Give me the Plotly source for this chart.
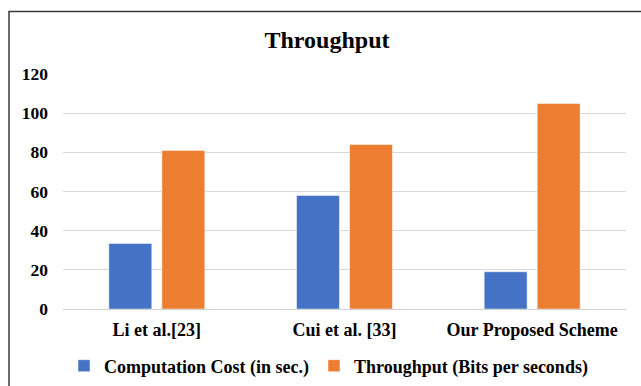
import plotly.graph_objects as go

# Chart data
schemes = ["Li et al.[23]", "Cui et al. [33]", "Our Proposed Scheme"]
computation_cost = [33.5, 58, 19]
throughput = [81, 84, 105]
y_ticks = [0, 20, 40, 60, 80, 100, 120]

FONT = "Liberation Serif, Times New Roman, serif"
W, H = 641, 386
L, R, T, B = 63, 15, 74, 77
plot_w = W - L - R
plot_h = H - T - B


def px_to_paper_x(px):
    return (px - L) / plot_w


def px_to_paper_y(py):
    return (H - B - py) / plot_h


fig = go.Figure()
fig.add_trace(go.Bar(
    name="Computation Cost (in sec.)",
    x=schemes, y=computation_cost,
    marker=dict(color="#4472C4", line=dict(color="rgba(255,255,255,0.5)", width=1)),
))
fig.add_trace(go.Bar(
    name="Throughput (Bits per seconds)",
    x=schemes, y=throughput,
    marker=dict(color="#ED7D31", line=dict(color="rgba(255,255,255,0.5)", width=1)),
))

fig.update_layout(
    width=W, height=H,
    margin=dict(l=L, r=R, t=T, b=B, autoexpand=False),
    paper_bgcolor="white",
    plot_bgcolor="white",
    barmode="group",
    bargap=0.435,
    bargroupgap=0.19,
    font=dict(family=FONT, color="black"),
    title=dict(
        text="<b>Throughput</b>",
        font=dict(family=FONT, size=24, color="black"),
        x=327 / W, xref="container", xanchor="center",
        y=1 - 40 / H, yref="container", yanchor="middle",
    ),
    xaxis=dict(
        showgrid=False,
        showline=False,
        ticks="",
        automargin=False,
        tickfont=dict(family=FONT, size=18, color="black", weight="bold"),
        ticklabelstandoff=8,
    ),
    yaxis=dict(
        range=[0, 120],
        tickvals=y_ticks,
        showgrid=True,
        gridcolor="#d9d9d9",
        gridwidth=1.3,
        zeroline=True,
        zerolinecolor="#d0d0d0",
        zerolinewidth=1.3,
        showline=False,
        ticks="",
        automargin=False,
        tickfont=dict(family=FONT, size=17.5, color="black", weight="bold"),
        ticklabelstandoff=14,
    ),
    legend=dict(
        orientation="h",
        x=px_to_paper_x(64), xanchor="left",
        y=px_to_paper_y(366), yanchor="middle",
        font=dict(family=FONT, size=18, color="black", weight="bold"),
        itemwidth=30,
        bgcolor="rgba(0,0,0,0)",
    ),
    shapes=[
        dict(
            type="rect", xref="paper", yref="paper",
            x0=px_to_paper_x(9), x1=px_to_paper_x(W + 20),
            y0=px_to_paper_y(H + 20), y1=px_to_paper_y(11.5),
            line=dict(color="#3a3a3a", width=1.5),
            fillcolor="rgba(0,0,0,0)",
            layer="above",
        )
    ],
)

fig.write_html("out.html")
